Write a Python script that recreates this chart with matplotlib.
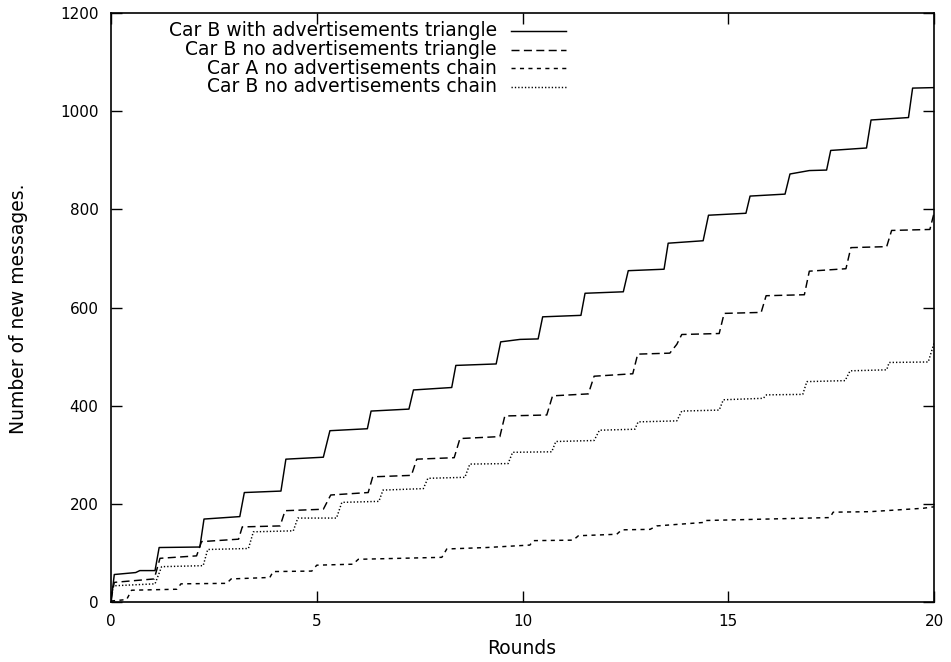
import matplotlib
matplotlib.use('Agg')
import matplotlib.pyplot as plt
from matplotlib.lines import Line2D

# -------- data (rounds, cumulative new messages) --------
b_ads_tri_x = [0, 0.08, 0.60, 0.70, 1.07, 1.17, 2.16, 2.26, 3.13, 3.24, 4.13, 4.25,
               5.16, 5.32, 6.23, 6.32, 7.24, 7.35, 8.28, 8.38, 9.36, 9.47, 9.94, 10.38,
               10.49, 11.42, 11.52, 12.45, 12.57, 13.44, 13.54, 14.39, 14.52, 15.43,
               15.53, 16.38, 16.50, 16.97, 17.39, 17.49, 18.36, 18.47, 19.38, 19.48, 20.0]
b_ads_tri_y = [0, 56, 60, 64, 64, 111, 112, 169, 174, 223, 226, 291,
               295, 349, 353, 389, 393, 432, 437, 482, 485, 530, 535, 536,
               581, 584, 629, 632, 675, 678, 731, 736, 788, 792,
               827, 831, 872, 879, 880, 920, 925, 982, 987, 1047, 1048]

b_noads_tri_x = [0, 0.08, 1.05, 1.19, 2.08, 2.20, 3.10, 3.19, 4.11, 4.23, 5.16, 5.34,
                 6.25, 6.36, 7.30, 7.43, 8.34, 8.48, 9.45, 9.57, 10.59, 10.73, 11.60,
                 11.74, 12.68, 12.80, 13.58, 13.75, 13.87, 14.78, 14.90, 15.80, 15.92,
                 16.85, 16.97, 17.86, 17.98, 18.85, 18.97, 19.90, 20.0]
b_noads_tri_y = [5, 40, 47, 89, 94, 123, 128, 153, 155, 186, 189, 218,
                 223, 255, 258, 291, 294, 333, 337, 379, 381, 420, 424,
                 460, 465, 505, 507, 525, 545, 547, 588, 590, 624,
                 626, 674, 679, 722, 724, 757, 759, 792]

a_noads_chain_x = [0, 0.38, 0.50, 1.60, 1.70, 2.81, 2.92, 3.86, 3.94, 4.88, 5.00, 5.88,
                   6.01, 8.04, 8.16, 9.13, 10.18, 10.26, 11.23, 11.36, 12.29, 12.41,
                   13.10, 13.26, 14.39, 14.43, 17.47, 17.55, 18.44, 19.74, 20.0]
a_noads_chain_y = [2, 5, 24, 26, 37, 38, 47, 50, 62, 63, 75, 77,
                   87, 91, 108, 111, 116, 125, 126, 135, 138, 147,
                   148, 155, 162, 166, 172, 183, 184, 191, 194]

b_noads_chain_x = [0, 0.06, 1.07, 1.23, 2.24, 2.35, 3.34, 3.46, 4.43, 4.54, 5.48, 5.61,
                   6.51, 6.61, 7.59, 7.70, 8.60, 8.72, 9.65, 9.76, 10.71, 10.81, 11.74,
                   11.87, 12.73, 12.81, 13.75, 13.87, 14.78, 14.88, 15.85, 15.93, 16.81,
                   16.91, 17.84, 17.96, 18.85, 18.91, 19.86, 20.0]
b_noads_chain_y = [10, 33, 37, 72, 74, 107, 109, 143, 145, 171, 171, 203,
                   205, 228, 231, 252, 254, 281, 282, 305, 306, 327, 329,
                   350, 352, 367, 369, 389, 391, 412, 415, 422, 423,
                   449, 451, 471, 473, 488, 489, 527]

labels = ['Car B with advertisements triangle',
          'Car B no advertisements triangle',
          'Car A no advertisements chain',
          'Car B no advertisements chain']

x_ticks = [0, 5, 10, 15, 20]
y_ticks = [0, 200, 400, 600, 800, 1000, 1200]

plt.rcParams['font.family'] = ['DejaVu Sans']
FS = 13.5       # legend / axis titles
FS_TICK = 11

W, H = 951, 662
fig = plt.figure(figsize=(W / 100, H / 100), dpi=100)
ax = fig.add_axes([111 / W, 1 - 602 / H, (934 - 111) / W, (602 - 13) / H])

styles = [dict(linestyle='-'),
          dict(linestyle=(0, (5.5, 3.0))),
          dict(linestyle=(0, (2.8, 3.0))),
          dict(linestyle=(0, (0.9, 1.4)))]
series = [(b_ads_tri_x, b_ads_tri_y), (b_noads_tri_x, b_noads_tri_y),
          (a_noads_chain_x, a_noads_chain_y), (b_noads_chain_x, b_noads_chain_y)]

for (xs, ys), st in zip(series, styles):
    ax.plot(xs, ys, color='black', lw=1.05, **st)

ax.set_xlim(0, 20)
ax.set_ylim(0, 1200)
ax.set_xticks(x_ticks)
ax.set_yticks(y_ticks)
ax.tick_params(direction='in', length=8, width=1.0, top=True, right=True,
               labelsize=FS_TICK)
ax.tick_params(axis='x', pad=9)
ax.tick_params(axis='y', pad=9)
for sp in ax.spines.values():
    sp.set_linewidth(1.2)

ax.set_xlabel('Rounds', fontsize=FS, va='center')
ax.set_ylabel('Number of new messages.', fontsize=FS, va='center')
ax.xaxis.set_label_coords((522 - 111) / (934 - 111), -(649 - 602) / (602 - 13))
ax.yaxis.set_label_coords(-(111 - 18) / (934 - 111), (602 - 309) / (602 - 13))

# legend drawn by hand: right-aligned text, sample line to the right
row_y = [31, 49.5, 68, 86.5]
for lab, st, ry in zip(labels, styles, row_y):
    yf = 1 - ry / H
    fig.text(497 / W, yf, lab, ha='right', va='center', fontsize=FS)
    fig.add_artist(Line2D([511 / W, 566 / W], [yf, yf], color='black', lw=1.05,
                          transform=fig.transFigure, **st))

fig.savefig('out.png', dpi=100)
